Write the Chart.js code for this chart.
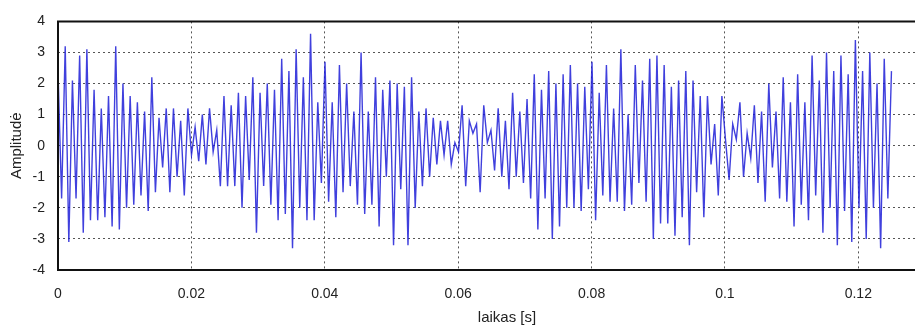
<!DOCTYPE html>
<html>
<head>
<meta charset="utf-8">
<script src="https://cdn.jsdelivr.net/npm/chart.js@4/dist/chart.umd.min.js"></script>
<style>
  html, body { margin: 0; padding: 0; background: #fff; overflow: hidden; }
  #wrap { width: 925px; height: 327px; }
</style>
</head>
<body>
<div id="wrap"><canvas id="myChart" width="925" height="327"></canvas></div>
<script>
// peak / trough values, one per half cycle
const ampA = [2.4, -1.7, 3.2, -3.1, 2.1, -1.7, 2.9, -2.8, 3.1, -2.4, 1.8, -2.4, 1.2, -2.3, 1.6, -2.6, 3.2, -2.7,
  2.0, -2.0, 1.6, -1.9, 1.4, -1.6, 1.1, -2.1, 2.2, -1.5, 0.9, -0.7, 1.2, -1.5, 1.2, -1.0, 0.8, -1.6];
const ampB = [1.2, -0.3, 0.6, -0.5, 1.0, -0.6, 1.2, -0.2, 0.5, -1.3, 1.6, -1.3, 1.3, -1.3, 1.7, -2.0, 1.6, -1.1,
  2.2, -2.8, 1.7, -1.3, 2.0, -1.9, 1.8, -2.4, 2.8, -2.2, 2.4, -3.3, 3.1, -2.0, 2.2, -2.4, 3.6, -2.4, 1.4, -1.2, 2.7];
const ampC = [-1.8, 1.4, -2.3, 2.6, -1.5, 2.0, -1.3, 1.1, -1.9, 3.0, -2.2, 1.1, -1.9, 2.2, -2.6, 1.8, -1.0, 2.1,
  -3.2, 2.0, -1.4, 1.9, -3.2, 2.2, -2.0, 1.1, -1.3, 1.2, -1.0, 0.9, -0.6, 0.8, -0.3, 0.8, -0.6];
const ampD = [0.1, -0.2, 1.3, -1.3, 0.8, 0.4, 0.7, -1.5, 1.3, 0.1, 0.5, -0.8, 1.2, -1.0, 0.8, -1.4, 1.7, -1.0,
  1.1, -1.2, 1.5, -1.7, 2.3, -2.7, 1.8, -1.7, 2.4, -3.0, 2.0, -2.6, 2.3, -2.0, 2.6, -2.0, 2.0, -2.1, 1.9, -1.4, 2.7];
const ampE = [-2.4, 1.7, -1.6, 2.6, -1.8, 1.2, -1.8, 3.1, -2.1, 1.0, -1.9, 2.6, -1.2, 2.1, -1.8, 2.8, -3.0, 2.9,
  -2.5, 2.6, -2.5, 1.9, -2.9, 2.1, -2.3, 2.4, -3.2, 2.1, -1.5, 1.6, -2.3, 1.6, -0.6, 0.7, -1.6, 1.6];
const ampF = [0.2, -1.1, 0.7, 0.2, 1.4, -1.0, 0.4, -0.4, 1.3, -1.2, 1.1, -1.8, 2.0, -0.7, 1.1, -1.7, 2.2, -1.8,
  1.4, -2.6, 2.3, -1.9, 1.4, -2.4, 2.9, -1.6, 2.1, -2.8, 3.0, -2.0, 2.4, -3.2, 2.9, -2.1, 2.3, -3.1, 3.4];
const ampG = [-2.0, 2.4, -3.0, 3.0, -2.0, 2.0, -3.3, 2.8, -1.7, 2.4];

const sampleStep = 0.000541; // seconds between the half-cycle samples above
const xTicks = [0, 0.02, 0.04, 0.06, 0.08, 0.1, 0.12];
const yTicks = [-4, -3, -2, -1, 0, 1, 2, 3, 4];
const xTitle = "laikas [s]";
const yTitle = "Amplitudė";

const amplitude = [].concat(ampA, ampB, ampC, ampD, ampE, ampF, ampG);
const points = amplitude.map((v, i) => ({ x: i * sampleStep, y: v }));

const FONT = "'Liberation Sans', Arial, sans-serif";

// black box round the plot + x title
const framePlugin = {
  id: "frame",
  afterDraw(chart) {
    const { ctx, chartArea } = chart;
    ctx.save();
    ctx.strokeStyle = "#111";
    ctx.lineWidth = 2;
    ctx.beginPath();
    ctx.moveTo(chartArea.right + 5, chartArea.top);
    ctx.lineTo(chartArea.left, chartArea.top);
    ctx.lineTo(chartArea.left, chartArea.bottom);
    ctx.lineTo(chartArea.right + 5, chartArea.bottom);
    ctx.stroke();
    ctx.fillStyle = "#222";
    ctx.font = "15px " + FONT;
    ctx.textAlign = "center";
    ctx.textBaseline = "middle";
    ctx.fillText(xTitle, 507, 318);
    ctx.restore();
  }
};

new Chart(document.getElementById("myChart"), {
  type: "line",
  data: {
    datasets: [{
      data: points,
      borderColor: "rgba(30, 30, 215, 0.85)",
      borderWidth: 1.4,
      pointRadius: 0,
      tension: 0,
      fill: false
    }]
  },
  options: {
    responsive: false,
    animation: false,
    devicePixelRatio: 1,
    layout: { padding: { top: 18, left: 0, right: 0, bottom: 0 } },
    plugins: { legend: { display: false }, tooltip: { enabled: false } },
    scales: {
      x: {
        type: "linear",
        min: 0,
        max: 0.13,
        afterBuildTicks: s => { s.ticks = xTicks.map(v => ({ value: v })); },
        afterFit: s => { s.height = 57; },
        grid: { color: "#555", lineWidth: 1, drawTicks: false },
        border: { display: false, dash: [2, 3] },
        ticks: {
          padding: 16,
          color: "#222",
          font: { family: FONT, size: 14 },
          maxRotation: 0,
          callback: v => String(v)
        }
      },
      y: {
        min: -4,
        max: 4,
        afterBuildTicks: s => { s.ticks = yTicks.map(v => ({ value: v })); },
        afterFit: s => { s.width = 58; },
        grid: { color: "#555", lineWidth: 1, drawTicks: false },
        border: { display: false, dash: [2, 3] },
        ticks: {
          padding: 13,
          color: "#222",
          font: { family: FONT, size: 14 },
          callback: v => String(v)
        },
        title: {
          display: true,
          text: yTitle,
          color: "#222",
          font: { family: FONT, size: 15 },
          padding: { top: 8, bottom: 0 }
        }
      }
    }
  },
  plugins: [framePlugin]
});
</script>
</body>
</html>
